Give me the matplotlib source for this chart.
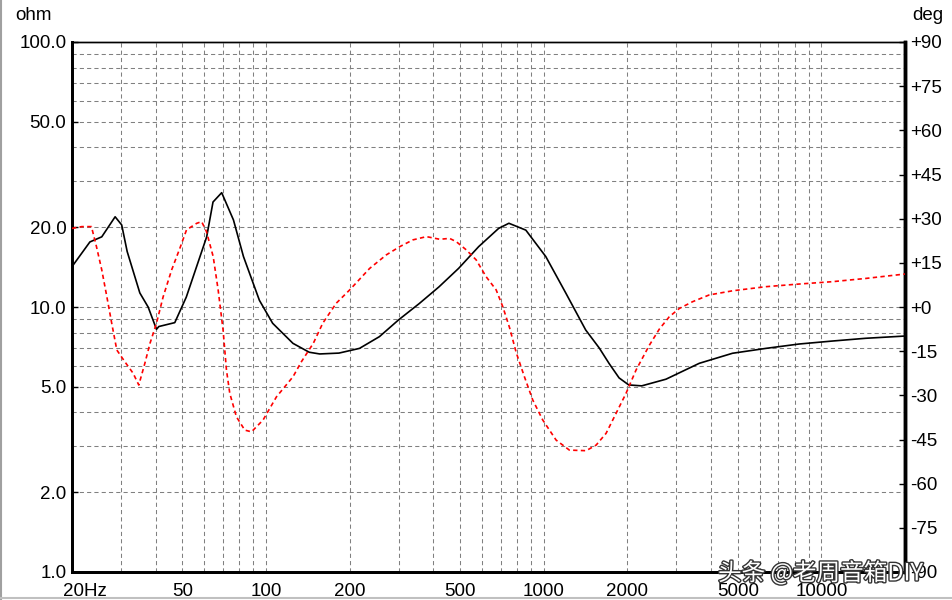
import matplotlib
matplotlib.use("Agg")
import matplotlib.pyplot as plt
import matplotlib.patheffects as pe
from matplotlib import font_manager

#### DATA ####

# impedance magnitude (ohm) vs frequency (Hz)
imp_freq = [20, 23.2, 25.6, 28.6, 30.2, 31.6, 35.1, 37.6, 40.3, 41.1, 46.9, 51.6,
            56.2, 61.1, 64.4, 69.2, 76.3, 82.9, 94.6, 105.6, 125, 143, 156, 183,
            217, 256, 300, 356, 419, 494, 583, 688, 749, 862, 1017, 1200, 1416,
            1585, 1723, 1868, 2024, 2254, 2755, 3631, 4785, 6309, 8312, 10955,
            14445, 20000]
imp_ohm = [14.2, 17.6, 18.4, 21.9, 20.4, 16.2, 11.3, 10.0, 8.24, 8.44, 8.73, 10.9,
           14.2, 18.4, 24.9, 27.0, 21.3, 15.5, 10.6, 8.68, 7.29, 6.75, 6.65, 6.70,
           6.98, 7.73, 8.94, 10.3, 11.9, 14.0, 16.9, 19.8, 20.7, 19.5, 15.5, 11.3, 8.19,
           7.0, 6.1, 5.4, 5.08, 5.04, 5.34, 6.13, 6.69, 6.98, 7.25, 7.44,
           7.62, 7.77]

# phase (deg) vs frequency (Hz)
ph_freq = [20, 21.7, 23.5, 24.5, 25.6, 26.7, 27.8, 29.0, 31.0, 33.2, 34.8, 36.6,
           38.2, 40.3, 42.6, 45.7, 48.9, 51.7, 56.2, 58.6, 61.0, 64.5, 67.2, 70.0,
           72.0, 74.0, 78.2, 83.8, 88.6, 97.5, 109, 125, 134, 148, 160, 179, 200,
           236, 271, 303, 338, 378, 422, 458, 484, 526, 571, 620, 674, 712, 753,
           796, 852, 913, 992, 1108, 1237, 1421, 1544, 1677, 1822, 1979, 2150,
           2400, 2608, 2833, 3078, 3436, 3945, 4784, 6308, 8312, 10950, 14444, 20000]
ph_deg = [26.7, 27.3, 27.3, 20.5, 12.6, 3.5, -5.5, -14.6, -18.6, -22.5, -26.5, -19.1,
          -12.3, -5.5, 3.5, 12.6, 19.9, 26.2, 28.4, 29.0, 25.6, 17.1, 5.8, -7.8,
          -21.4, -29.3, -37.3, -41.8, -42.4, -38.4, -30.5, -23.7, -18.6, -12.3, -5.5, 1.3, 5.8,
          13.1, 17.7, 20.5, 22.8, 23.9, 23.0, 23.3, 22.2, 19.4, 16.0, 10.3, 5.8, 0.1, -7.0,
          -15.5, -23.7, -31.6, -38.4, -45.2, -48.6, -48.8, -46.9, -42.9, -36.1, -29.3, -21.4,
          -13.0, -7.5, -3.3, -0.5, 1.8, 4.1, 5.5, 6.9, 7.8, 8.6, 9.7, 11.2]

x_ticks = [20, 50, 100, 200, 500, 1000, 2000, 5000, 10000]
x_labels = ["20Hz", "50", "100", "200", "500", "1000", "2000", "5000", "10000"]
y_ticks = [1, 2, 5, 10, 20, 50, 100]
y_labels = ["1.0", "2.0", "5.0", "10.0", "20.0", "50.0", "100.0"]
deg_ticks = list(range(-90, 91, 15))
deg_labels = ["%+d" % d if d != 0 else "+0" for d in deg_ticks]

x_grid = [30, 40, 50, 60, 70, 80, 90, 100, 200, 300, 400, 500, 600, 700, 800, 900,
          1000, 2000, 3000, 4000, 5000, 6000, 7000, 8000, 9000, 10000]
y_grid = [2, 3, 4, 5, 6, 7, 8, 9, 10, 20, 30, 40, 50, 60, 70, 80, 90]

#### PLOT ####

names = {f.name for f in font_manager.fontManager.ttflist}
fam = "Liberation Sans Narrow" if "Liberation Sans Narrow" in names else "Liberation Sans"
plt.rcParams["font.family"] = [fam, "DejaVu Sans"]
fs = 13.5

W, H = 952, 600
fig = plt.figure(figsize=(W / 100, H / 100), dpi=100)
L, R, T, B = 72, 905, 42, 572
ax = fig.add_axes([L / W, 1 - B / H, (R - L) / W, (B - T) / H])
ax.set_xscale("log")
ax.set_yscale("log")
ax.set_xlim(20, 20000)
ax.set_ylim(1, 100)

for g in x_grid:
    ax.axvline(g, color="#808080", lw=0.75, dashes=(4, 3), zorder=1)
for g in y_grid:
    ax.axhline(g, color="#808080", lw=0.75, dashes=(4, 3), zorder=1)

ax.plot(imp_freq, imp_ohm, color="black", lw=1.2, zorder=4)

ax.set_xticks(x_ticks)
ax.set_xticklabels([])
ax.set_xticks([], minor=True)
ax.set_yticks(y_ticks)
ax.set_yticklabels(y_labels, fontsize=fs)
ax.set_yticks([], minor=True)
ax.tick_params(axis="x", length=0)
ax.tick_params(axis="y", direction="in", length=4, width=1, pad=4)

ax2 = ax.twinx()
ax2.set_ylim(-90, 90)
ax2.plot(ph_freq, ph_deg, color="#ff0000", lw=1.2, dashes=(2.6, 2), zorder=3)
ax2.set_yticks(deg_ticks)
ax2.set_yticklabels(deg_labels, fontsize=fs)
ax2.tick_params(axis="y", direction="in", length=4, width=1, pad=4)

for a in (ax, ax2):
    a.spines["left"].set_linewidth(2)
    a.spines["bottom"].set_linewidth(2)
    a.spines["right"].set_linewidth(2.5)
    a.spines["top"].set_linewidth(1)

# x labels placed below the axis
for v, lab in zip(x_ticks, x_labels):
    xp = ax.transData.transform((v, 1))[0]
    if lab == "20Hz":
        fig.text((xp - 9) / W, 1 - 591 / H, lab, fontsize=fs, ha="left", va="center")
    else:
        fig.text(xp / W, 1 - 591 / H, lab, fontsize=fs, ha="center", va="center")

fig.text(15 / W, 1 - 16 / H, "ohm", fontsize=fs, ha="left", va="center")
fig.text(912 / W, 1 - 16 / H, "deg", fontsize=fs, ha="left", va="center")

# outer border
fig.add_artist(plt.Line2D([0.001, 0.001], [0, 1], color="#a0a0a0", lw=1.5, transform=fig.transFigure))
fig.add_artist(plt.Line2D([0, 1], [0.003, 0.003], color="#c0c0c0", lw=1.5, transform=fig.transFigure))

# watermark
fig.text(718 / W, 1 - 573 / H, "头条 @老周音箱DIY", fontsize=17,
         family=["Noto Sans CJK SC", "DejaVu Sans"], color="white", ha="left", va="center",
         path_effects=[pe.withStroke(linewidth=2, foreground="#333333")], zorder=10)

fig.savefig("out.png", dpi=100)
